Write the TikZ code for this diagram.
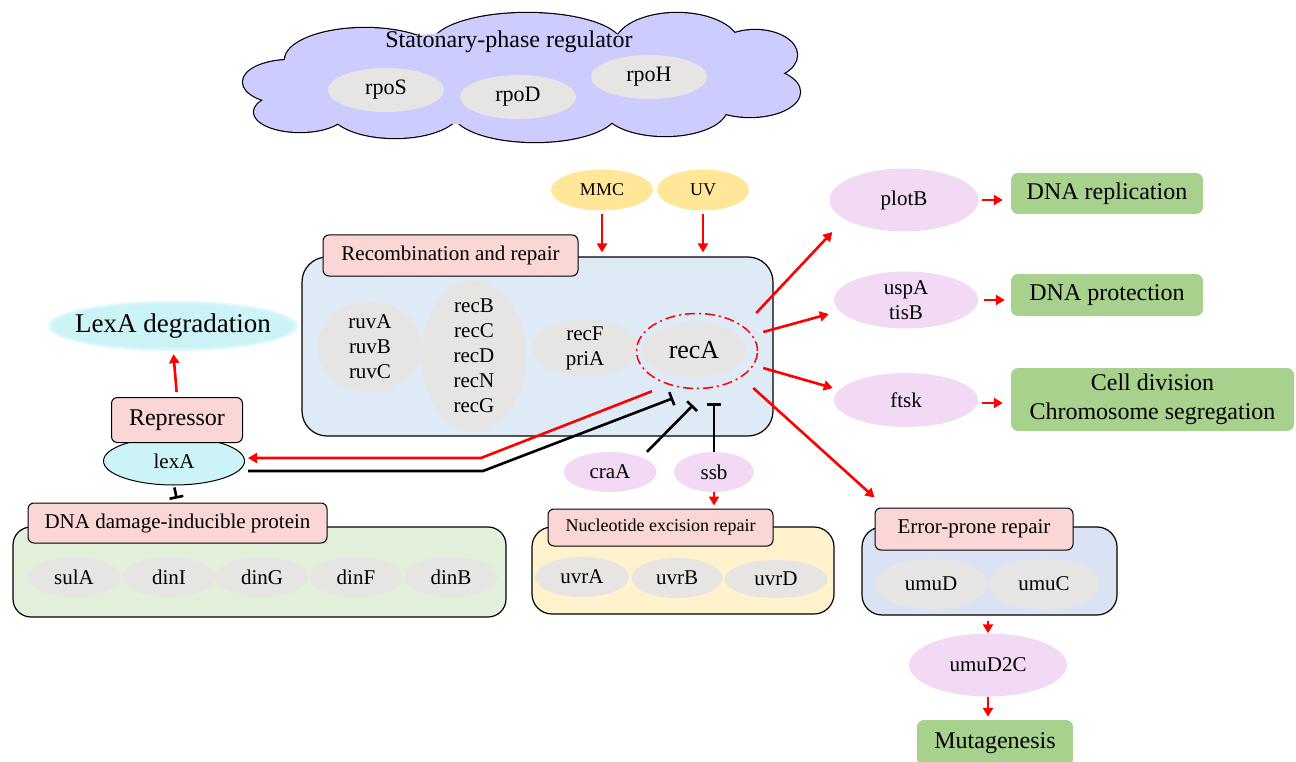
\documentclass[tikz,border=0pt]{standalone}
\usepackage{fontspec}
\setmainfont{Liberation Serif}
\usetikzlibrary{shapes.geometric,arrows.meta,calc}

\definecolor{cloudblue}{RGB}{204,204,255}
\definecolor{genegray}{RGB}{231,228,228}
\definecolor{stressyellow}{RGB}{255,230,153}
\definecolor{tabpink}{RGB}{251,214,214}
\definecolor{recblue}{RGB}{222,234,246}
\definecolor{lexcyan}{RGB}{204,244,247}
\definecolor{dingreen}{RGB}{226,239,218}
\definecolor{neryellow}{RGB}{255,242,204}
\definecolor{epblue}{RGB}{218,227,243}
\definecolor{protviolet}{RGB}{242,218,245}
\definecolor{outgreen}{RGB}{169,209,142}

\tikzset{
  gene/.style={ellipse, fill=genegray, inner sep=0pt, align=center},
  prot/.style={ellipse, fill=protviolet, inner sep=0pt, align=center},
  tab/.style={draw, fill=tabpink, rounded corners=6pt, line width=1pt, inner sep=0pt},
  group/.style={draw, rounded corners=20pt, line width=1.2pt, inner sep=0pt},
  outcome/.style={fill=outgreen, rounded corners=7pt, inner sep=0pt, align=center, font=\fontsize{24}{29}\selectfont},
  act/.style={red, line width=2.6pt, -{Triangle[length=9pt,width=10pt]}},
  inh/.style={black, line width=2.6pt, -{Bar[width=14pt]}},
}

\begin{document}
\begin{tikzpicture}[x=1pt, y=-1pt, font=\fontsize{21}{25}\selectfont]
\useasboundingbox (0,0) rectangle (1296,762);

% stationary phase cloud
\foreach \cx/\cy/\rx/\ry in {290/82/47/22, 300/112/46/20, 365/60/80/32, 527/45/95/32, 677/45/62/32,
    755/55/42/25, 750/92/50/25, 665/108/62/28, 535/112/82/30, 395/110/65/28}
  \draw[line width=2.4pt, fill=cloudblue] (\cx,\cy) ellipse [x radius=\rx, y radius=\ry];
\foreach \cx/\cy/\rx/\ry in {290/82/47/22, 300/112/46/20, 365/60/80/32, 527/45/95/32, 677/45/62/32,
    755/55/42/25, 750/92/50/25, 665/108/62/28, 535/112/82/30, 395/110/65/28}
  \fill[cloudblue] (\cx,\cy) ellipse [x radius=\rx, y radius=\ry];
\fill[cloudblue] (522,78) ellipse [x radius=230, y radius=48];

\node[font=\fontsize{24}{28}\selectfont] (statlbl) at (509,42) {Statonary-phase regulator};
\node[gene, minimum width=116pt, minimum height=44pt, font=\fontsize{22}{26}\selectfont] (rpoS) at (386,90) {rpoS};
\node[gene, minimum width=116pt, minimum height=44pt, font=\fontsize{22}{26}\selectfont] (rpoD) at (518,97) {rpoD};
\node[gene, minimum width=116pt, minimum height=44pt, font=\fontsize{22}{26}\selectfont] (rpoH) at (649,77) {rpoH};

% recombination and repair
\node[group, rounded corners=25pt, fill=recblue, minimum width=471pt, minimum height=179pt] (recbox) at (537.5,346.5) {};
\node[tab, minimum width=255pt, minimum height=41pt] (rectab) at (450.5,255.5) {Recombination and repair};
\node[gene, inner ysep=-4pt, minimum width=104pt, minimum height=91pt] (ruv) at (370,347) {ruvA\\ruvB\\ruvC};
\node[gene, inner ysep=-9pt, minimum width=105pt, minimum height=150pt] (recBCD) at (474,356) {recB\\recC\\recD\\recN\\recG};
\node[gene, inner ysep=-5pt, minimum width=105pt, minimum height=57pt] (recF) at (585,348) {recF\\priA};
\node[gene, minimum width=103pt, minimum height=55pt, font=\fontsize{26}{30}\selectfont] (recA) at (694,350) {recA};
\node[ellipse, draw=red, line width=1.5pt, dash pattern=on 10pt off 4pt on 2pt off 4pt,
  minimum width=121pt, minimum height=75pt] (ring) at (697,351) {};

\node[ellipse, fill=stressyellow, minimum width=102pt, minimum height=41pt, font=\fontsize{18}{22}\selectfont] (MMC) at (602,190) {MMC};
\node[ellipse, fill=stressyellow, minimum width=92pt, minimum height=41pt, font=\fontsize{18}{22}\selectfont] (UV) at (703,190) {UV};

% lexA
\node[ellipse, fill=lexcyan!45, minimum width=251pt, minimum height=51pt] (lexhalo) at (173,326) {};
\node[ellipse, fill=lexcyan!80, minimum width=246pt, minimum height=48pt] (lexhalo2) at (173,326) {};
\node[ellipse, fill=lexcyan, inner xsep=-14pt, inner ysep=0pt, minimum width=240pt, minimum height=44pt,
  font=\fontsize{27}{31}\selectfont] (lexdeg) at (173,326) {LexA degradation};
\node[ellipse, draw, line width=1pt, fill=lexcyan, minimum width=141pt, minimum height=48pt] (lexA) at (174,461) {lexA};
\node[tab, minimum width=131pt, minimum height=45pt, font=\fontsize{24}{28}\selectfont] (repr) at (177,420) {Repressor};

% DNA damage-inducible
\node[group, rounded corners=18pt, fill=dingreen, minimum width=493pt, minimum height=90pt] (dmgbox) at (259.5,572) {};
\node[tab, minimum width=299pt, minimum height=40pt] (dmgtab) at (177.5,523) {DNA damage-inducible protein};
\node[gene, minimum width=93pt, minimum height=40pt] (sulA) at (74,577) {sulA};
\node[gene, minimum width=93pt, minimum height=40pt] (dinI) at (169,577) {dinI};
\node[gene, minimum width=93pt, minimum height=40pt] (dinG) at (262,577) {dinG};
\node[gene, minimum width=93pt, minimum height=40pt] (dinF) at (356,577) {dinF};
\node[gene, minimum width=93pt, minimum height=40pt] (dinB) at (451,577) {dinB};

% nucleotide excision
\node[prot, minimum width=93pt, minimum height=40pt] (craA) at (610,472) {craA};
\node[prot, minimum width=80pt, minimum height=40pt] (ssb) at (714,472) {ssb};
\node[group, fill=neryellow, minimum width=302pt, minimum height=87pt] (nerbox) at (683,570.5) {};
\node[tab, minimum width=225pt, minimum height=37pt, font=\fontsize{18}{22}\selectfont] (nertab) at (660.5,527.5) {Nucleotide excision repair};
\node[gene, minimum width=94pt, minimum height=40pt] (uvrA) at (582,577) {uvrA};
\node[gene, minimum width=91pt, minimum height=40pt] (uvrB) at (677,578) {uvrB};
\node[gene, minimum width=103pt, minimum height=38pt] (uvrD) at (776,579) {uvrD};

% error-prone
\node[group, fill=epblue, minimum width=255pt, minimum height=88pt] (epbox) at (989.5,571) {};
\node[tab, minimum width=198pt, minimum height=42pt] (eptab) at (974,529) {Error-prone repair};
\node[gene, minimum width=112pt, minimum height=51pt] (umuD) at (931,584) {umuD};
\node[gene, minimum width=112pt, minimum height=51pt] (umuC) at (1044,584) {umuC};
\node[prot, minimum width=158pt, minimum height=63pt] (umuDC) at (988,665) {umuD2C};
\node[outcome, minimum width=156pt, minimum height=46pt] (mut) at (995,743) {Mutagenesis};

% outputs of recA
\node[prot, minimum width=149pt, minimum height=63pt] (plotB) at (904,200) {plotB};
\node[prot, inner ysep=-5pt, minimum width=144pt, minimum height=57pt] (uspA) at (906,300) {uspA\\tisB};
\node[prot, minimum width=144pt, minimum height=54pt] (ftsk) at (906,400) {ftsk};
\node[outcome, minimum width=192pt, minimum height=41pt] (replic) at (1107,193.5) {DNA replication};
\node[outcome, minimum width=192pt, minimum height=42pt] (protect) at (1107,295) {DNA protection};
\node[outcome, minimum width=283pt, minimum height=63pt] (celldiv) at (1152.5,399.5) {Cell division\\Chromosome segregation};

\draw[act, shorten <=3pt, shorten >=4pt] (MMC.south) -- (MMC.south |- recbox.north);
\draw[act, shorten <=3pt, shorten >=4pt] (UV.south) -- (UV.south |- recbox.north);

\draw[act, shorten <=5pt, shorten >=6pt] (repr.north) -- (lexdeg.south);
\draw[inh, shorten <=2pt, shorten >=4pt] (lexA.south) -- (dmgtab.north);

\coordinate (rbend) at (481,458);
\coordinate (kbend) at (483,471);
\draw[act, shorten >=3pt] ($(ring.south)+(-45,2)$) -- (rbend) -- (rbend -| lexA.east);
\draw[inh] ($(lexA.east |- kbend)+(3,0)$) -- (kbend) -- ($(ring.south)+(-24,9)$);
\draw[inh] ($(craA.north)+(37,0)$) -- ($(ring.south)+(-4,16)$);
\draw[inh] (ssb.north) -- ($(ring.south)+(17,14)$);
\draw[act, shorten >=3pt] (ssb.south) -- (ssb.south |- nertab.north);

\draw[act] ($(ring.east)+(-2,-38)$) -- ($(plotB.west)+(3,32)$);
\draw[act] ($(ring.east)+(5,-19)$) -- ($(uspA.west)+(-5,14)$);
\draw[act] ($(ring.east)+(5,17)$) -- ($(ftsk.west)+(-1,-12)$);
\draw[act] ($(ring.east)+(-5,37)$) -- ($(eptab.north west)+(0,-10)$);

\draw[act, shorten <=3pt, shorten >=8pt] (plotB.east) -- (plotB.east -| replic.west);
\draw[act, shorten <=6pt, shorten >=6pt] (uspA.east) -- (uspA.east -| protect.west);
\draw[act, shorten <=4pt, shorten >=8pt] ($(ftsk.east)+(0,3)$) -- ($(ftsk.east -| celldiv.west)+(0,3)$);
\draw[act, shorten <=5pt] (epbox.south -| umuDC.north) -- (umuDC.north);
\draw[act, shorten >=3pt] (umuDC.south) -- (umuDC.south |- mut.north);
\end{tikzpicture}
\end{document}
